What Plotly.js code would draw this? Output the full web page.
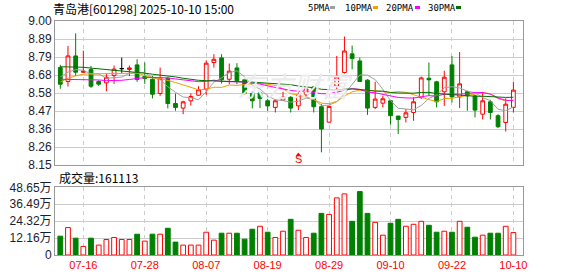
<!DOCTYPE html>
<html><head><meta charset="utf-8">
<script src="https://cdn.plot.ly/plotly-3.0.1.min.js"></script>
<style>html,body{margin:0;padding:0;background:#fff;}#chart{width:578px;height:276px;}</style>
</head><body><div id="chart"></div>
<script>
const dates = ['07-11','07-14','07-15','07-16','07-17','07-18','07-21','07-22','07-23','07-24','07-25','07-28','07-29','07-30','07-31','08-01','08-04','08-05','08-06','08-07','08-08','08-11','08-12','08-13','08-14','08-15','08-18','08-19','08-20','08-21','08-22','08-25','08-26','08-27','08-28','08-29','09-01','09-02','09-03','09-04','09-05','09-08','09-09','09-10','09-11','09-12','09-15','09-16','09-17','09-18','09-19','09-22','09-23','09-24','09-25','09-26','09-29','09-30','10-09','10-10'];
const openP  = [8.725,8.643,8.794,8.697,8.713,8.643,8.635,8.678,8.719,8.714,8.741,8.672,8.656,8.572,8.662,8.513,8.486,8.529,8.562,8.598,8.755,8.782,8.656,8.723,8.653,8.572,8.576,8.529,8.490,8.533,8.550,8.499,8.564,8.611,8.494,8.403,8.615,8.696,8.806,8.764,8.651,8.490,8.515,8.529,8.439,8.431,8.460,8.548,8.662,8.641,8.582,8.741,8.552,8.582,8.558,8.450,8.523,8.441,8.401,8.490];
const highP  = [8.741,8.853,8.927,8.825,8.735,8.650,8.688,8.737,8.784,8.737,8.774,8.755,8.676,8.725,8.670,8.572,8.529,8.572,8.615,8.768,8.804,8.804,8.749,8.751,8.662,8.584,8.584,8.556,8.537,8.582,8.556,8.578,8.611,8.615,8.509,8.501,8.794,8.908,8.855,8.784,8.656,8.641,8.558,8.535,8.439,8.480,8.550,8.672,8.755,8.647,8.706,8.794,8.817,8.588,8.564,8.582,8.535,8.450,8.544,8.641];
const lowP   = [8.600,8.613,8.676,8.695,8.605,8.616,8.586,8.629,8.694,8.674,8.641,8.629,8.543,8.558,8.484,8.470,8.450,8.501,8.558,8.564,8.725,8.631,8.627,8.627,8.565,8.484,8.486,8.470,8.460,8.529,8.460,8.474,8.556,8.460,8.225,8.400,8.578,8.690,8.715,8.640,8.446,8.480,8.490,8.388,8.333,8.401,8.411,8.540,8.558,8.490,8.499,8.519,8.486,8.470,8.431,8.419,8.419,8.368,8.348,8.460];
const closeP = [8.627,8.794,8.698,8.703,8.615,8.627,8.668,8.716,8.719,8.723,8.655,8.660,8.568,8.662,8.513,8.490,8.523,8.554,8.594,8.751,8.774,8.653,8.704,8.647,8.574,8.529,8.543,8.499,8.529,8.550,8.486,8.564,8.598,8.494,8.362,8.496,8.670,8.823,8.778,8.643,8.486,8.539,8.541,8.441,8.419,8.458,8.523,8.664,8.653,8.523,8.668,8.552,8.629,8.558,8.474,8.529,8.460,8.376,8.509,8.592];
const volume = [135300,197000,121000,61700,121000,71200,111500,125800,111500,111500,149500,99700,149500,149500,192200,92500,71200,71200,71200,163700,106800,156600,156600,156600,113900,185100,206500,163700,125800,170900,256300,178000,125800,156600,299000,291900,410500,439000,242000,455600,299000,234900,142400,227800,256300,206500,220700,242000,213600,163700,170900,163700,242000,199300,128100,142400,156600,156600,206500,161113];
const ma5  = [8.670,8.698,8.713,8.709,8.687,8.687,8.662,8.666,8.669,8.691,8.696,8.695,8.665,8.654,8.612,8.579,8.551,8.548,8.535,8.582,8.639,8.665,8.695,8.706,8.670,8.621,8.599,8.558,8.535,8.530,8.521,8.526,8.545,8.538,8.501,8.503,8.524,8.569,8.626,8.682,8.680,8.654,8.597,8.530,8.485,8.480,8.476,8.501,8.543,8.564,8.606,8.612,8.605,8.586,8.576,8.548,8.530,8.479,8.470,8.493];
const ma10 = [8.640,8.662,8.676,8.686,8.688,8.688,8.689,8.690,8.691,8.689,8.692,8.678,8.665,8.661,8.651,8.637,8.623,8.607,8.594,8.597,8.609,8.608,8.622,8.620,8.626,8.630,8.632,8.627,8.620,8.600,8.571,8.562,8.552,8.536,8.515,8.512,8.525,8.557,8.582,8.591,8.591,8.589,8.583,8.578,8.583,8.579,8.565,8.549,8.536,8.524,8.542,8.544,8.552,8.564,8.570,8.577,8.571,8.542,8.528,8.535];
const ma20 = [8.656,8.656,8.656,8.656,8.655,8.652,8.648,8.647,8.650,8.655,8.662,8.666,8.667,8.666,8.664,8.658,8.652,8.645,8.642,8.643,8.651,8.643,8.644,8.641,8.639,8.634,8.628,8.617,8.607,8.599,8.590,8.585,8.587,8.578,8.571,8.571,8.579,8.592,8.601,8.596,8.581,8.576,8.568,8.557,8.549,8.546,8.545,8.553,8.559,8.558,8.567,8.567,8.568,8.571,8.577,8.578,8.568,8.546,8.532,8.530];
const ma30 = [8.730,8.730,8.729,8.727,8.722,8.718,8.714,8.711,8.708,8.704,8.698,8.692,8.686,8.682,8.677,8.670,8.662,8.655,8.650,8.648,8.647,8.646,8.645,8.643,8.641,8.639,8.636,8.634,8.631,8.629,8.624,8.616,8.613,8.606,8.597,8.593,8.593,8.597,8.599,8.596,8.590,8.586,8.586,8.578,8.575,8.574,8.574,8.578,8.579,8.572,8.568,8.565,8.562,8.559,8.556,8.556,8.554,8.549,8.549,8.550];
const priceTickVals = [9.00,8.89375,8.7875,8.68125,8.575,8.46875,8.3625,8.25625,8.15];
const priceTickText = ['9.00','8.89','8.79','8.68','8.58','8.47','8.36','8.26','8.15'];
const volTickVals = [0,121625,243250,364875,486500];
const volTickText = ['0','12.16万','24.32万','36.49万','48.65万'];
const dateTicks = ['07-16','07-28','08-07','08-19','08-29','09-10','09-22','10-10'];
const titleText = '青岛港[601298] 2025-10-10 15:00';
const volTitle = '成交量';
const maNames = ['5PMA','10PMA','20PMA','30PMA'];
const signalDate = '08-25';
const signalText = 'S';
const watermark = '东方财富';

const RED = '#ff0000', GREEN = '#008000';
const maColors = ['#a0a0a0','#f0a000','#ff00ff','#006f00'];
const maSeries = [ma5, ma10, ma20, ma30];

const idxN = [], idxD = [];
dates.forEach((d,i)=>{ (openP[i]===closeP[i] ? idxD : idxN).push(i); });
const pick = (arr, ids) => ids.map(i=>arr[i]);

const traces = [];
traces.push({type:'candlestick', x:pick(dates,idxN), open:pick(openP,idxN), high:pick(highP,idxN), low:pick(lowP,idxN), close:pick(closeP,idxN),
  increasing:{line:{color:RED,width:1}, fillcolor:'#ffffff'}, decreasing:{line:{color:GREEN,width:1}, fillcolor:GREEN},
  whiskerwidth:0, xaxis:'x', yaxis:'y', hoverinfo:'skip'});
traces.push({type:'candlestick', x:pick(dates,idxD), open:pick(openP,idxD), high:pick(highP,idxD), low:pick(lowP,idxD), close:pick(closeP,idxD),
  increasing:{line:{color:'#000000',width:1}, fillcolor:'#000000'}, decreasing:{line:{color:'#000000',width:1}, fillcolor:'#000000'},
  whiskerwidth:0, xaxis:'x', yaxis:'y', hoverinfo:'skip'});
maSeries.forEach((s,k)=>{
  traces.push({type:'scatter', mode:'lines', x:dates, y:s, line:{color:maColors[k], width:1}, xaxis:'x', yaxis:'y', hoverinfo:'skip'});
});
const volUp = volume.map((v,i)=> i===0 ? closeP[i]>=openP[i] : closeP[i]>=closeP[i-1]);
traces.push({type:'bar', x:dates, y:volume, width:0.62, xaxis:'x2', yaxis:'y2', hoverinfo:'skip',
  marker:{color:volUp.map(u=>u?'#ffffff':GREEN), line:{color:volUp.map(u=>u?RED:GREEN), width:1}}});
// signal marker
const sIdx = dates.indexOf(signalDate);
traces.push({type:'scatter', mode:'markers', x:[signalDate], y:[8.209], marker:{symbol:'triangle-up', size:5, color:RED}, xaxis:'x', yaxis:'y', hoverinfo:'skip'});

const gridC = '#cccccc', frameC = '#999999';
const xBase = {type:'category', categoryorder:'array', categoryarray:dates, range:[-0.69,60.25], tickvals:dateTicks, ticktext:dateTicks,
  showgrid:true, gridcolor:gridC, griddash:'4px,4px', gridwidth:1, showline:true, mirror:true, linecolor:frameC, linewidth:1,
  ticks:'', zeroline:false, fixedrange:true, rangeslider:{visible:false}};
const yBase = {showgrid:true, gridcolor:gridC, gridwidth:1, showline:true, mirror:true, linecolor:frameC, linewidth:1, ticks:'', zeroline:false, fixedrange:true,
  tickfont:{family:'Liberation Sans, Noto Sans CJK SC', size:12, color:'#1c1c30'}};

const annotations = [];
annotations.push({xref:'paper', yref:'paper', x:-0.0092, y:1.054, xanchor:'left', yanchor:'middle', text:titleText, showarrow:false,
  font:{family:'Noto Sans CJK SC', size:12, color:'#000'}});
const legX = [0.5363,0.6154,0.7030,0.7927];
maNames.forEach((n,k)=>{
  annotations.push({xref:'paper', yref:'paper', x:legX[k], y:1.056, xanchor:'left', yanchor:'middle', text:n, showarrow:false,
    font:{family:'DejaVu Sans Mono', size:9, color:'#000'}});
});
annotations.push({xref:'paper', yref:'paper', x:0.0043, y:0.333, xanchor:'left', yanchor:'middle', text:volTitle+':'+volume[volume.length-1], showarrow:false,
  font:{family:'Noto Sans CJK SC', size:12, color:'#000'}});
annotations.push({xref:'paper', yref:'y', x:0.512, y:8.62, xanchor:'center', yanchor:'middle', text:'<i>'+watermark+'</i>', showarrow:false,
  font:{family:'Noto Sans CJK SC', size:28, color:'#ebebef'}});
annotations.push({xref:'x', yref:'y', x:signalDate, y:8.183, xanchor:'center', yanchor:'middle', text:signalText, showarrow:false,
  font:{family:'Liberation Sans', size:11, color:RED}});

const sqX = [330,373,415,456];
const shapes = sqX.map((px,k)=>({type:'rect', xref:'paper', yref:'paper', x0:(px-55)/468, x1:(px+5-55)/468, y0:(255-9)/234, y1:(255-6)/234,
  fillcolor:maColors[k], line:{width:0}}));

const layout = {
  width:578, height:276, margin:{l:55,r:55,t:21,b:21}, paper_bgcolor:'#ffffff', plot_bgcolor:'#ffffff', showlegend:false,
  font:{family:'Liberation Sans, Noto Sans CJK SC', size:12, color:'#1c1c30'},
  xaxis: Object.assign({}, xBase, {anchor:'y', domain:[0,1], showticklabels:false}),
  xaxis2: Object.assign({}, xBase, {anchor:'y2', domain:[0,1], showticklabels:true, tickfont:{family:'Liberation Sans', size:11, color:RED}}),
  yaxis: Object.assign({}, yBase, {domain:[0.3846,1], range:[8.15,9.0], tickvals:priceTickVals, ticktext:priceTickText}),
  yaxis2: Object.assign({}, yBase, {domain:[0,0.2893], range:[0,486500], tickvals:volTickVals, ticktext:volTickText}),
  annotations: annotations, shapes: shapes
};
Plotly.newPlot('chart', traces, layout, {staticPlot:true, displayModeBar:false});
</script></body></html>
